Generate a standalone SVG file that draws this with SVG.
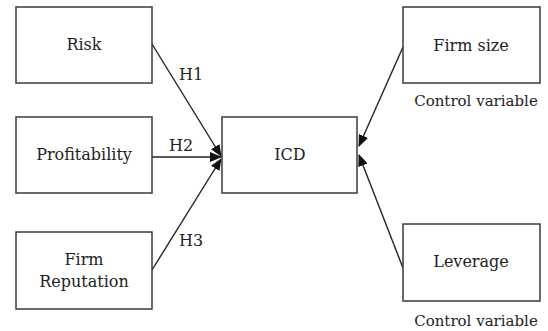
<svg xmlns="http://www.w3.org/2000/svg" width="548" height="331" viewBox="0 0 548 331">
<style>
.box{fill:#fff;stroke:#3a3a3a;stroke-width:1.5}
.t{font-family:"DejaVu Serif","Liberation Serif",serif;font-size:16px;fill:#222;text-anchor:middle}
.s{font-family:"DejaVu Serif","Liberation Serif",serif;font-size:15px;fill:#222;text-anchor:middle}
.c{stroke:#222;stroke-width:1.4;fill:none;marker-end:url(#ah)}
</style>
<defs>
<marker id="ah" markerUnits="userSpaceOnUse" markerWidth="12" markerHeight="10" refX="11" refY="5" orient="auto">
<path d="M0,0 L12,5 L0,10 Z" fill="#111"/>
</marker>
</defs>
<rect width="548" height="331" fill="#fff"/>
<g id="connectors">
<line class="c" x1="152" y1="44" x2="221" y2="156"/>
<line class="c" x1="152" y1="157" x2="221" y2="157"/>
<line class="c" x1="152" y1="270" x2="221" y2="159"/>
<line class="c" x1="403" y1="47" x2="359" y2="146"/>
<line class="c" x1="403" y1="268" x2="359" y2="155"/>
<text class="t" x="191" y="80">H1</text>
<text class="t" x="181" y="151">H2</text>
<text class="t" x="191" y="246">H3</text>
</g>
<g id="risk"><rect class="box" x="16" y="7" width="136" height="76"/><text class="t" x="84" y="50">Risk</text></g>
<g id="profitability"><rect class="box" x="16" y="117" width="136" height="76"/><text class="t" x="84" y="160">Profitability</text></g>
<g id="reputation"><rect class="box" x="16" y="232" width="136" height="77"/><text class="t" x="84" y="265">Firm</text><text class="t" x="84" y="287">Reputation</text></g>
<g id="icd"><rect class="box" x="222" y="117" width="135" height="76"/><text class="t" x="290" y="160">ICD</text></g>
<g id="firmsize"><rect class="box" x="403" y="7" width="137" height="76"/><text class="t" x="471" y="51">Firm size</text><text class="s" x="476" y="106">Control variable</text></g>
<g id="leverage"><rect class="box" x="403" y="224" width="137" height="77"/><text class="t" x="471" y="267">Leverage</text><text class="s" x="476" y="326">Control variable</text></g>
</svg>
